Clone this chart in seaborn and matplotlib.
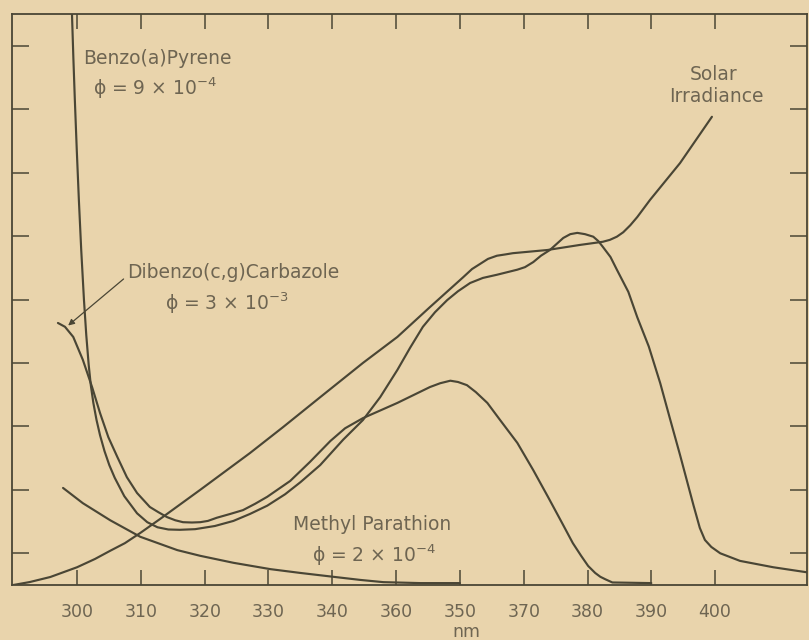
import matplotlib
matplotlib.use("Agg")
import matplotlib.pyplot as plt
import seaborn as sns
import pandas as pd

# ---- data (wavelength in nm, relative intensity units) ----
benzo_x = [299.2, 299.42, 299.65, 299.95, 300.28, 300.65, 301.08, 301.44, 301.82, 302.15,
           302.55, 303.05, 303.6, 304.3, 305.05, 305.9, 307.4, 309.4, 311.0, 312.6,
           314.3, 316.1, 318.5, 321.6, 324.5, 327.1, 329.8, 332.6, 335.0, 338.1,
           341.7, 344.8, 347.5, 350.2, 352.2, 354.2, 356.1, 358.0, 359.7, 361.6,
           363.6, 365.8, 369.0, 370.2, 371.5, 372.7, 374.1, 376.2, 377.3, 378.4,
           379.6, 380.9, 381.7, 382.4, 383.6, 384.6, 386.4, 387.8, 389.6, 391.4,
           392.9, 394.5, 396.6, 397.6, 398.4, 399.4, 400.8, 403.9, 409.1, 414.4]
benzo_y = [90.0, 83.0, 76.45, 68.6, 60.7, 52.8, 44.9, 39.4, 34.7, 31.5,
           28.7, 26.0, 23.6, 21.1, 18.9, 16.9, 14.0, 11.3, 9.9, 9.1,
           8.75, 8.7, 8.8, 9.3, 10.1, 11.2, 12.5, 14.3, 16.2, 18.9,
           22.9, 26.0, 29.6, 33.9, 37.4, 40.7, 43.0, 44.9, 46.3, 47.6,
           48.4, 48.9, 49.7, 50.1, 50.9, 51.9, 52.8, 54.7, 55.3, 55.5,
           55.3, 54.9, 54.2, 53.3, 51.7, 49.7, 46.2, 42.2, 37.6, 31.8,
           26.3, 20.5, 12.6, 9.0, 7.1, 6.0, 5.0, 3.8, 2.8, 2.0]

dibenzo_x = [297.0, 298.1, 299.4, 300.9, 302.35, 303.6, 304.9, 306.3, 307.8, 309.4,
             311.4, 312.7, 314.1, 315.4, 316.6, 318.0, 319.3, 320.5, 321.9, 324.0,
             326.0, 327.9, 329.8, 333.4, 336.5, 339.7, 342.0, 344.8, 350.2, 355.3,
             356.9, 358.5, 359.7, 361.1, 362.5, 364.3, 366.3, 369.0, 371.5, 373.8,
             376.0, 377.7, 379.0, 380.1, 381.2, 382.0, 382.8, 383.9, 390.0]
dibenzo_y = [41.3, 40.7, 39.1, 35.5, 31.2, 27.1, 23.3, 20.2, 17.0, 14.5,
             12.3, 11.5, 10.7, 10.2, 9.9, 9.85, 9.9, 10.1, 10.6, 11.2,
             11.8, 12.8, 13.9, 16.4, 19.4, 22.7, 24.7, 26.3, 28.7, 31.2,
             31.8, 32.2, 32.0, 31.5, 30.4, 28.7, 26.0, 22.4, 18.1, 13.9,
             9.8, 6.6, 4.6, 3.0, 1.9, 1.3, 0.9, 0.4, 0.3]

methyl_x = [297.8, 300.9, 305.2, 309.9, 315.7, 319.3, 324.5, 330.3, 335.0, 340.1,
            344.4, 348.0, 353.8, 360.0]
methyl_y = [15.3, 12.9, 10.2, 7.6, 5.5, 4.6, 3.5, 2.5, 1.9, 1.3,
            0.8, 0.45, 0.3, 0.3]

solar_x = [290.0, 292.6, 295.8, 300.0, 302.8, 305.2, 307.5, 309.9, 313.0, 319.3,
           327.1, 332.3, 338.1, 344.8, 350.2, 355.3, 360.5, 361.9, 364.4, 365.8,
           367.1, 368.3, 373.7, 378.8, 382.4, 383.5, 384.6, 385.6, 386.7, 387.8,
           389.8, 394.5, 399.5]
solar_y = [0.0, 0.47, 1.26, 2.8, 4.1, 5.4, 6.6, 8.2, 10.4, 15.0,
           20.8, 24.9, 29.6, 35.0, 39.1, 43.8, 48.5, 49.8, 51.4, 51.9,
           52.1, 52.3, 52.8, 53.6, 54.1, 54.4, 54.9, 55.6, 56.7, 58.0,
           60.7, 66.5, 73.8]

tick_pos = [300, 310, 320, 330, 340, 350, 360, 370, 380, 390, 400]
tick_labels = ["300", "310", "320", "330", "340", "360", "350", "370", "380", "390", "400"]
ytick_pos = [5, 15, 25, 35, 45, 55, 65, 75, 85]

BG = "#E9D4AC"
LINE = "#4A4635"
TXT = "#6E6552"

sns.set_style("ticks", {"axes.facecolor": BG, "figure.facecolor": BG,
                        "axes.edgecolor": LINE})
plt.rcParams["font.family"] = ["DejaVu Sans"]
plt.rcParams["mathtext.fontset"] = "dejavusans"
plt.rcParams["mathtext.default"] = "regular"

fig = plt.figure(figsize=(8.09, 6.40), dpi=100)
ax = fig.add_axes([12 / 809, 55 / 640, 795 / 809, 571 / 640])

curves = [("Benzo(a)Pyrene", benzo_x, benzo_y),
          ("Dibenzo(c,g)Carbazole", dibenzo_x, dibenzo_y),
          ("Methyl Parathion", methyl_x, methyl_y),
          ("Solar Irradiance", solar_x, solar_y)]
for name, xs, ys in curves:
    df = pd.DataFrame({"nm": xs, "val": ys})
    sns.lineplot(data=df, x="nm", y="val", ax=ax, color=LINE, lw=1.55,
                 estimator=None, sort=False, legend=False,
                 solid_joinstyle="round", solid_capstyle="round")

ax.set_xlim(289.8, 414.4)
ax.set_ylim(0, 90)
ax.set_xticks(tick_pos)
ax.set_xticklabels(tick_labels)
ax.set_yticks(ytick_pos)
ax.set_yticklabels([])
ax.tick_params(axis="x", direction="in", length=11, width=1.1, color=LINE,
               top=True, bottom=True, labelsize=12.5, labelcolor=TXT, pad=13)
ax.tick_params(axis="y", direction="in", length=12, width=1.1, color=LINE,
               left=True, right=True)
for s in ax.spines.values():
    s.set_visible(True)
    s.set_linewidth(1.3)
    s.set_color(LINE)
ax.set_ylabel("")
ax.set_xlabel("nm", fontsize=12.5, color=TXT)
ax.xaxis.set_label_coords(0.571, -0.066)

fs = 13.5
ax.text(300.9, 82.1, "Benzo(a)Pyrene", fontsize=fs, color=TXT, ha="left", va="baseline")
ax.text(302.5, 77.2, "ϕ = 9 × 10$^{-4}$", fontsize=fs, color=TXT, ha="left", va="baseline")
ax.annotate("Dibenzo(c,g)Carbazole", xy=(298.6, 40.9), xytext=(307.8, 48.4),
            fontsize=fs, color=TXT, ha="left", va="baseline",
            arrowprops=dict(arrowstyle="-|>", color=LINE, lw=0.9,
                            mutation_scale=9, shrinkA=0, shrinkB=0,
                            relpos=(0, 0.3)))
ax.text(313.8, 43.3, "ϕ = 3 × 10$^{-3}$", fontsize=fs, color=TXT, ha="left", va="baseline")
ax.text(399.7, 79.6, "Solar", fontsize=fs, color=TXT, ha="center", va="baseline")
ax.text(400.2, 76.1, "Irradiance", fontsize=fs, color=TXT, ha="center", va="baseline")
ax.text(333.9, 8.7, "Methyl Parathion", fontsize=fs, color=TXT, ha="left", va="baseline")
ax.text(336.8, 3.6, "ϕ = 2 × 10$^{-4}$", fontsize=fs, color=TXT, ha="left", va="baseline")

fig.savefig("out.png", dpi=100, facecolor=BG)
